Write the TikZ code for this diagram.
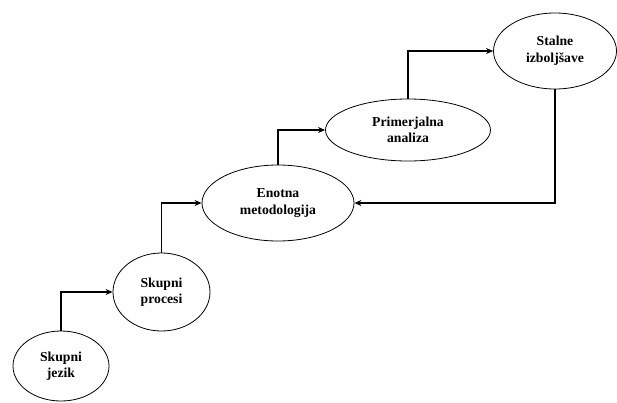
\documentclass[tikz,border=0pt]{standalone}
\usepackage{fontspec}
\setmainfont{Liberation Serif}
\usetikzlibrary{shapes.geometric,arrows.meta}
\begin{document}
\begin{tikzpicture}[x=1pt,y=-1pt,
  oval/.style={draw, ellipse, line width=0.8pt, inner sep=0pt, align=center,
    font=\bfseries\fontsize{13.7}{16.6}\selectfont},
  conn/.style={line width=1.7pt, -{Stealth[length=7pt,width=6pt]}}]
\useasboundingbox (0,0) rectangle (617,402);
\node[oval, minimum width=96pt, minimum height=70pt] (jezik) at (61,366) {Skupni\\jezik};
\node[oval, minimum width=97pt, minimum height=78pt] (procesi) at (161.5,292) {Skupni\\procesi};
\node[oval, minimum width=152pt, minimum height=76pt] (enotna) at (278,203) {Enotna\\metodologija};
\node[oval, minimum width=165pt, minimum height=62pt] (prim) at (408,130) {Primerjalna\\analiza};
\node[oval, minimum width=123pt, minimum height=76pt] (stalne) at (555,51) {Stalne\\izboljšave};
\draw[conn, line width=2.3pt] (jezik.north) |- (procesi.west);
\draw[conn] (procesi.north) |- (enotna.west);
\draw[conn] (enotna.north) |- (prim.west);
\draw[conn] (prim.north) |- (stalne.west);
\draw[conn] (stalne.south) |- (enotna.east);
\end{tikzpicture}
\end{document}
